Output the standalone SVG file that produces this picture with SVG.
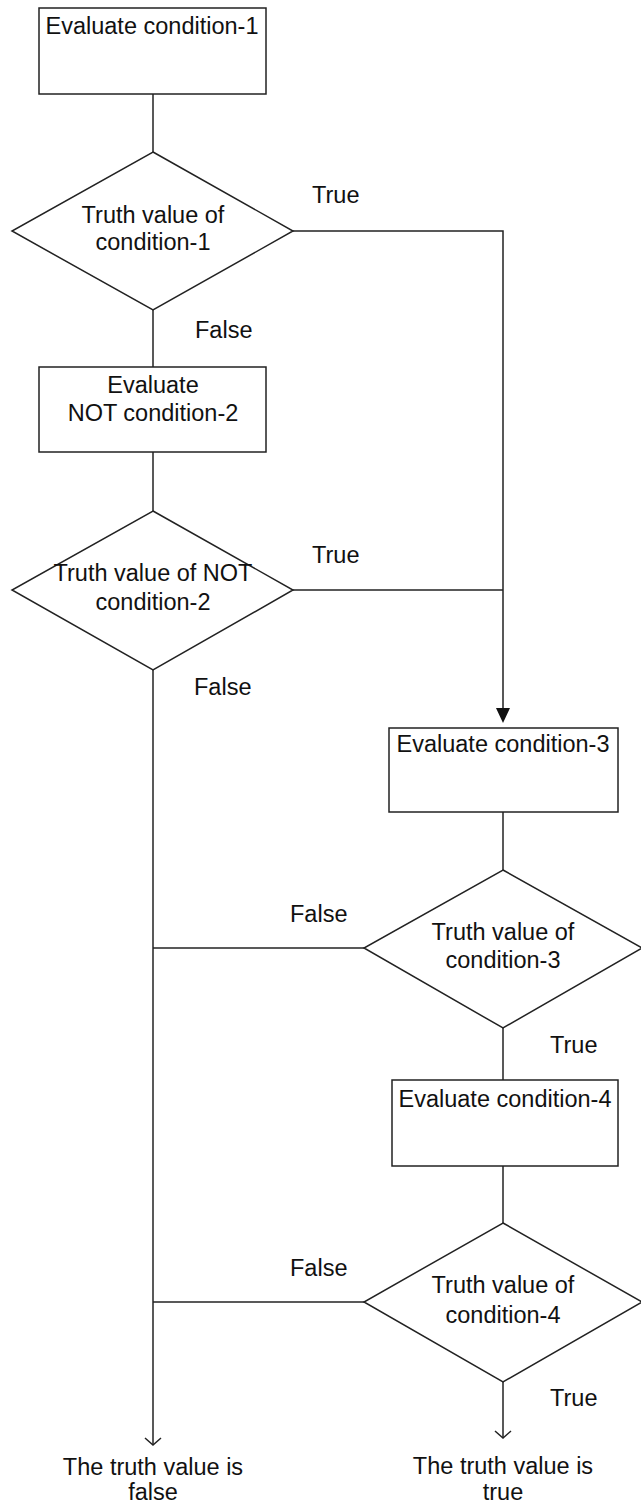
<svg xmlns="http://www.w3.org/2000/svg" width="641" height="1506" viewBox="0 0 641 1506">
<style>
.n{fill:#fff;stroke:#222;stroke-width:1.5}
.c{fill:none;stroke:#222;stroke-width:1.5}
.h{fill:#111;stroke:none}
text{font-family:"Liberation Sans",Arial,sans-serif;font-size:23.5px;fill:#111}
.m{text-anchor:middle}
</style>
<rect width="641" height="1506" fill="#fff"/>
<g id="connectors">
<path class="c" d="M153,94 V152"/>
<path class="c" d="M153,310 V367"/>
<path class="c" d="M153,452 V511"/>
<path class="c" d="M293,231 H503 V708"/>
<path class="h" d="M496,708 L510,708 L503,723 Z"/>
<path class="c" d="M293,590 H503"/>
<path class="c" d="M503,812 V870"/>
<path class="c" d="M503,1028 V1080"/>
<path class="c" d="M503,1166 V1223"/>
<path class="c" d="M503,1382 V1438"/>
<path class="c" d="M495,1431 L503,1438 L511,1431"/>
<path class="c" d="M153,670 V1445"/>
<path class="c" d="M145,1438 L153,1445 L161,1438"/>
<path class="c" d="M153,948 H364"/>
<path class="c" d="M153,1302 H364"/>
<text x="312" y="203">True</text>
<text x="195" y="338">False</text>
<text x="312" y="563">True</text>
<text x="194" y="695">False</text>
<text x="290" y="922">False</text>
<text x="550" y="1053">True</text>
<text x="290" y="1276">False</text>
<text x="550" y="1406">True</text>
</g>
<g id="box1">
<rect class="n" x="39" y="8" width="227" height="86"/>
<text class="m" x="152" y="34">Evaluate condition-1</text>
</g>
<g id="dec1">
<polygon class="n" points="153,152 293,231 153,310 12,231"/>
<text class="m" x="153" y="223">Truth value of</text>
<text class="m" x="153" y="250">condition-1</text>
</g>
<g id="box2">
<rect class="n" x="39" y="367" width="227" height="85"/>
<text class="m" x="153" y="393">Evaluate</text>
<text class="m" x="153" y="421">NOT condition-2</text>
</g>
<g id="dec2">
<polygon class="n" points="153,511 293,590 153,670 12,590"/>
<text class="m" x="153" y="581">Truth value of NOT</text>
<text class="m" x="153" y="610">condition-2</text>
</g>
<g id="box3">
<rect class="n" x="389" y="728" width="229" height="84"/>
<text class="m" x="503" y="752">Evaluate condition-3</text>
</g>
<g id="dec3">
<polygon class="n" points="503,870 642,948 503,1028 364,948"/>
<text class="m" x="503" y="940">Truth value of</text>
<text class="m" x="503" y="968">condition-3</text>
</g>
<g id="box4">
<rect class="n" x="392" y="1080" width="226" height="86"/>
<text class="m" x="505" y="1107">Evaluate condition-4</text>
</g>
<g id="dec4">
<polygon class="n" points="503,1223 642,1302 503,1382 364,1302"/>
<text class="m" x="503" y="1293">Truth value of</text>
<text class="m" x="503" y="1323">condition-4</text>
</g>
<g id="endFalse">
<text class="m" x="153" y="1475">The truth value is</text>
<text class="m" x="153" y="1500">false</text>
</g>
<g id="endTrue">
<text class="m" x="503" y="1474">The truth value is</text>
<text class="m" x="503" y="1500">true</text>
</g>
</svg>
